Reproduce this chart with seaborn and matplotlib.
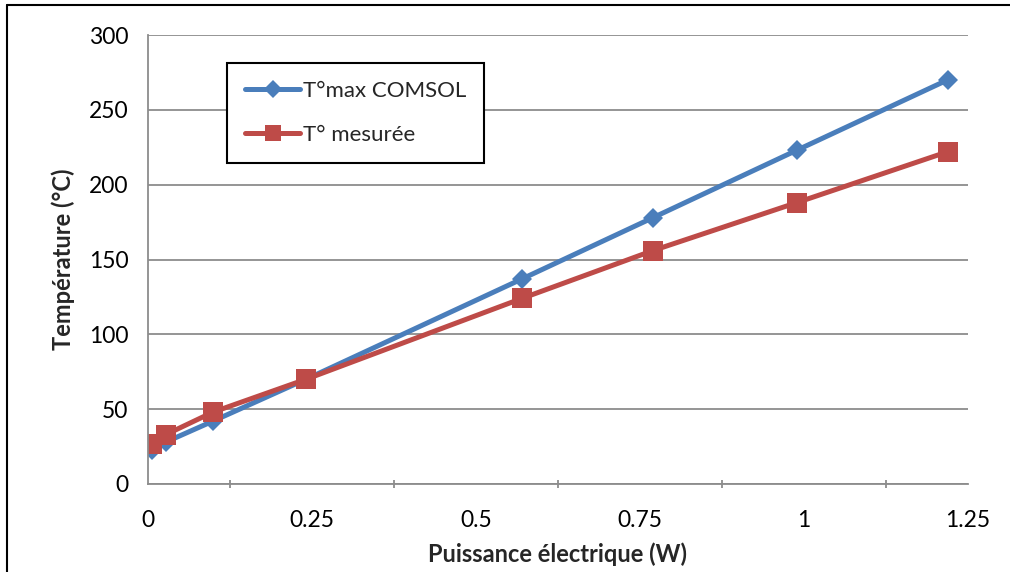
import matplotlib
matplotlib.use("Agg")
import matplotlib.pyplot as plt
from matplotlib.lines import Line2D
from matplotlib.ticker import MultipleLocator
import seaborn as sns
import pandas as pd

# data
puissance = [0.006, 0.027, 0.099, 0.241, 0.570, 0.770, 0.989, 1.219]
t_comsol = [23, 28, 42, 70, 137, 178, 223, 270]
t_mesuree = [27, 33, 48, 70, 124, 156, 188, 222]
x_ticks = [0, 0.25, 0.5, 0.75, 1, 1.25]
x_tick_labels = ["0", "0.25", "0.5", "0.75", "1", "1.25"]
y_ticks = [0, 50, 100, 150, 200, 250, 300]

sns.set_style("white")
plt.rcParams["font.family"] = ["Lato", "DejaVu Sans"]

df = pd.DataFrame({
    "P": puissance * 2,
    "T": t_comsol + t_mesuree,
    "serie": ["T°max COMSOL"] * len(puissance) + ["T° mesurée"] * len(puissance),
})

blue = "#4a7ebb"
red = "#be4b48"

fig = plt.figure(figsize=(10.1, 5.72), dpi=100)
ax = fig.add_axes([148 / 1010, 88 / 572, 820 / 1010, 449 / 572])

sns.lineplot(data=df, x="P", y="T", hue="serie", style="serie",
             palette={"T°max COMSOL": blue, "T° mesurée": red},
             markers={"T°max COMSOL": "D", "T° mesurée": "s"},
             dashes=False, linewidth=3.6, markersize=10, markeredgewidth=0,
             ax=ax, legend=False, sort=False)
# bigger squares than diamonds
for ln in ax.lines:
    if ln.get_marker() == "s":
        ln.set_markersize(14)
    if ln.get_marker() == "D":
        ln.set_markersize(10)

ax.set_xlim(0, 1.25)
ax.set_ylim(0, 300)
ax.set_xticks(x_ticks)
ax.set_xticklabels(x_tick_labels)
ax.xaxis.set_minor_locator(MultipleLocator(0.125))
ax.set_yticks(y_ticks)
ax.yaxis.grid(True, color="#8c8c8c", linewidth=1.3)
ax.xaxis.grid(False)
for s in ["top", "right"]:
    ax.spines[s].set_visible(False)
for s in ["left", "bottom"]:
    ax.spines[s].set_color("#8c8c8c")
    ax.spines[s].set_linewidth(1.3)
ax.tick_params(axis="x", which="major", direction="inout", length=10, width=1.3,
               color="#8c8c8c", labelsize=16.5, pad=14)
ax.tick_params(axis="x", which="minor", direction="inout", length=6, width=1.3,
               color="#8c8c8c", bottom=True)
ax.tick_params(axis="y", direction="out", length=0, labelsize=16.5, pad=14)
for lbl in ax.get_xticklabels() + ax.get_yticklabels():
    lbl.set_color("black")

ax.set_xlabel("Puissance électrique (W)", fontsize=17, fontweight="bold", labelpad=8)
ax.set_ylabel("Température (°C)", fontsize=17, fontweight="bold", labelpad=10)

handles = [
    Line2D([0], [0], color=blue, lw=3.6, marker="D", markersize=9, markeredgewidth=0),
    Line2D([0], [0], color=red, lw=3.6, marker="s", markersize=11, markeredgewidth=0),
]
leg = ax.legend(handles, ["T°max COMSOL", "T° mesurée"], loc="upper left",
                bbox_to_anchor=(79 / 820, 1 - 28 / 449), borderaxespad=0,
                fontsize=16, frameon=True, fancybox=False, edgecolor="black",
                handlelength=2.5, handletextpad=0.1, labelspacing=1.1,
                borderpad=0.8, framealpha=1)
leg.get_frame().set_linewidth(1.5)

# outer chart border (cropped on right and bottom)
fig.add_artist(Line2D([7 / 1010, 7 / 1010], [0, 1 - 5 / 572], color="black", lw=1.5,
                      transform=fig.transFigure))
fig.add_artist(Line2D([7 / 1010, 1], [1 - 5 / 572, 1 - 5 / 572], color="black", lw=1.5,
                      transform=fig.transFigure))

fig.savefig("out.png", dpi=100)
